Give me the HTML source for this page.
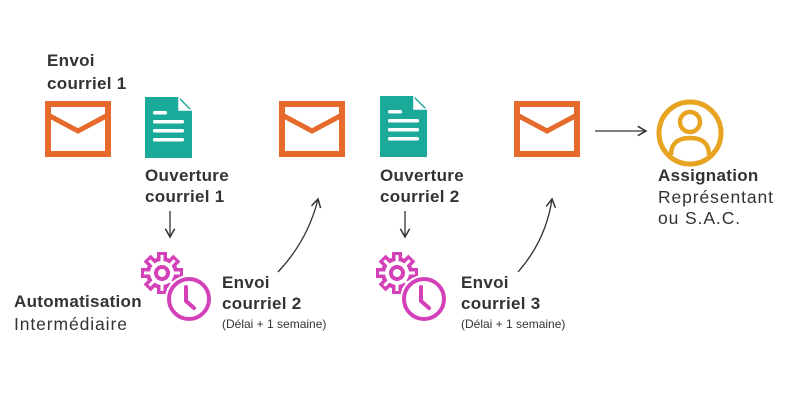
<!DOCTYPE html>
<html><head><meta charset="utf-8"><style>
html,body{margin:0;padding:0;background:#fff;}
svg{display:block;}
text{font-family:"Liberation Sans",sans-serif;fill:#333;}
.b{font-weight:bold;font-size:17px;letter-spacing:0.3px;}
.r{font-size:17.5px;letter-spacing:0.9px;}
.s{font-size:12px;}
</style></head><body>
<svg width="800" height="400" viewBox="0 0 800 400">
<defs>
<g id="env"><rect x="3" y="3" width="60" height="50" fill="none" stroke="#E66A2C" stroke-width="6"/><polyline points="3,14 33,30 63,14" fill="none" stroke="#E66A2C" stroke-width="5"/></g>
<g id="doc"><path d="M0,0 H34 L47,13 V61 H0 Z" fill="#1BA99A"/><path d="M34,2 L34,13 L45,13 Z" fill="#fff"/><path d="M34,0 V13 H47" fill="none" stroke="#fff" stroke-width="1.5"/>
<rect x="8" y="14" width="14" height="3.5" rx="1.5" fill="#fff"/><rect x="8" y="23" width="31" height="3.5" rx="1.5" fill="#fff"/><rect x="8" y="32" width="31" height="3.5" rx="1.5" fill="#fff"/><rect x="8" y="41" width="31" height="3.5" rx="1.5" fill="#fff"/></g>
<g id="gear">
<g transform="translate(22,20)" fill="#D340B8">
<circle r="16"/>
<rect x="-5" y="-21" width="10" height="42"/><rect x="-21" y="-5" width="42" height="10"/>
<rect x="-5" y="-21" width="10" height="42" transform="rotate(45)"/><rect x="-21" y="-5" width="42" height="10" transform="rotate(45)"/>
<g fill="#fff"><circle r="12"/>
<rect x="-1.5" y="-18" width="3" height="36"/><rect x="-18" y="-1.5" width="36" height="3"/>
<rect x="-1.5" y="-18" width="3" height="36" transform="rotate(45)"/><rect x="-18" y="-1.5" width="36" height="3" transform="rotate(45)"/></g>
<circle r="6" fill="none" stroke="#D340B8" stroke-width="4"/>
</g>
<circle cx="49" cy="46" r="24" fill="#fff"/>
<circle cx="49" cy="46" r="20" fill="none" stroke="#D340B8" stroke-width="4"/>
<polyline points="46,34 46,48 54,55" fill="none" stroke="#D340B8" stroke-width="4" stroke-linecap="round"/>
</g>
<marker id="ah" viewBox="0 0 10 10" refX="8" refY="5" markerWidth="9" markerHeight="9" orient="auto-start-reverse"><polyline points="1,1 8,5 1,9" fill="none" stroke="#333" stroke-width="1.3"/></marker>
</defs>

<text class="b" x="47" y="66">Envoi</text>
<text class="b" x="47" y="89">courriel 1</text>
<use href="#env" x="45" y="101"/>
<use href="#doc" x="145" y="97"/>
<use href="#env" x="279" y="101"/>
<use href="#doc" x="380" y="96"/>
<use href="#env" x="514" y="101"/>

<line x1="595" y1="131" x2="646" y2="131" stroke="#333" stroke-width="1.3" marker-end="url(#ah)"/>
<circle cx="690" cy="133" r="31" fill="none" stroke="#E8A321" stroke-width="5"/>
<circle cx="690" cy="122" r="10" fill="none" stroke="#E8A321" stroke-width="4.5"/>
<path d="M671,155 Q671,138 690,138 Q709,138 709,155" fill="none" stroke="#E8A321" stroke-width="4.5"/>

<text class="b" x="145" y="181">Ouverture</text>
<text class="b" x="145" y="202">courriel 1</text>
<line x1="170" y1="211" x2="170" y2="237" stroke="#333" stroke-width="1.3" marker-end="url(#ah)"/>
<use href="#gear" x="140" y="253"/>
<text class="b" x="14" y="307">Automatisation</text>
<text class="r" x="14" y="330">Intermédiaire</text>
<text class="b" x="222" y="288">Envoi</text>
<text class="b" x="222" y="309">courriel 2</text>
<text class="s" x="222" y="328">(Délai + 1 semaine)</text>
<path d="M278,272 Q308,240 318,199" fill="none" stroke="#333" stroke-width="1.3" marker-end="url(#ah)"/>

<text class="b" x="380" y="181">Ouverture</text>
<text class="b" x="380" y="202">courriel 2</text>
<line x1="405" y1="211" x2="405" y2="237" stroke="#333" stroke-width="1.3" marker-end="url(#ah)"/>
<use href="#gear" x="375" y="253"/>
<text class="b" x="461" y="288">Envoi</text>
<text class="b" x="461" y="309">courriel 3</text>
<text class="s" x="461" y="328">(Délai + 1 semaine)</text>
<path d="M518,272 Q546,240 552,199" fill="none" stroke="#333" stroke-width="1.3" marker-end="url(#ah)"/>

<text class="b" x="658" y="181">Assignation</text>
<text class="r" x="658" y="203">Représentant</text>
<text class="r" x="658" y="224">ou S.A.C.</text>
</svg>
</body></html>
